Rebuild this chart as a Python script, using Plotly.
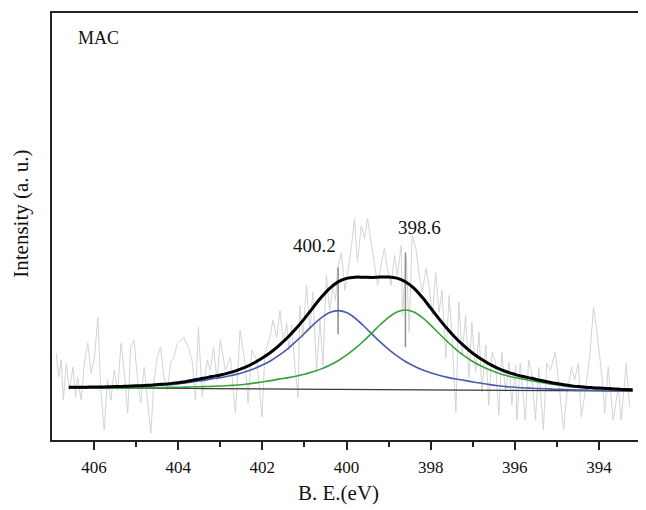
import plotly.graph_objects as go

# ---- raw (noisy) N 1s spectrum, binding energy (eV) and intensity (a.u.) ----
be_raw = [406.90, 406.84, 406.78, 406.73, 406.66, 406.59, 406.50, 406.44, 406.39, 406.31,
          406.23, 406.15, 406.07, 405.99, 405.91, 405.84, 405.76, 405.68, 405.60, 405.52,
          405.44, 405.36, 405.28, 405.20, 405.13, 405.05, 404.97, 404.89, 404.81, 404.73,
          404.65, 404.58, 404.50, 404.42, 404.34, 404.26, 404.18, 404.10, 404.02, 403.87,
          403.76, 403.67, 403.59, 403.52, 403.43, 403.31, 403.24, 403.16, 403.08, 403.00,
          402.88, 402.76, 402.64, 402.53, 402.41, 402.34, 402.25, 402.13, 402.01, 401.94,
          401.82, 401.75, 401.66, 401.58, 401.50, 401.42, 401.37, 401.30, 401.23, 401.15,
          401.11, 401.04, 400.95, 400.87, 400.80, 400.71, 400.63, 400.56, 400.48, 400.40,
          400.33, 400.26, 400.21, 400.12, 400.04, 399.97, 399.88, 399.81, 399.74, 399.65,
          399.57, 399.50, 399.41, 399.33, 399.26, 399.18, 399.10, 399.03, 398.94, 398.86,
          398.79, 398.70, 398.67, 398.58, 398.51, 398.44, 398.35, 398.27, 398.20, 398.11,
          398.03, 397.96, 397.88, 397.80, 397.73, 397.64, 397.56, 397.49, 397.40, 397.33,
          397.25, 397.17, 397.09, 397.02, 396.93, 396.85, 396.78, 396.69, 396.62, 396.54,
          396.46, 396.38, 396.31, 396.22, 396.14, 396.07, 395.98, 395.95, 395.87, 395.75,
          395.67, 395.60, 395.51, 395.43, 395.32, 395.24, 395.15, 395.04, 394.96, 394.84,
          394.77, 394.65, 394.58, 394.49, 394.42, 394.32, 394.21, 394.13, 394.06, 393.99,
          393.92, 393.86, 393.78, 393.66, 393.54, 393.47, 393.35, 393.27]
int_raw = [87, 63, 80, 40, 77, 50, 73, 43, 63, 40,
           77, 97, 67, 83, 123, 50, 10, 60, 40, 70,
           50, 97, 67, 27, 93, 100, 63, 37, 73, 40,
           7, 57, 83, 93, 63, 50, 77, 83, 97, 103,
           93, 80, 40, 113, 43, 80, 70, 93, 60, 100,
           70, 83, 27, 110, 77, 37, 90, 80, 23, 87,
           103, 120, 103, 130, 97, 117, 90, 115, 75, 42,
           135, 102, 155, 110, 148, 68, 120, 75, 165, 130,
           152, 140, 172, 188, 150, 168, 195, 222, 178, 215,
           202, 222, 195, 172, 155, 175, 192, 172, 155, 185,
           165, 195, 125, 185, 108, 205, 192, 165, 148, 172,
           152, 125, 168, 128, 150, 82, 145, 102, 28, 138,
           85, 125, 62, 118, 68, 108, 48, 95, 35, 88,
           78, 25, 88, 48, 78, 35, 75, 20, 77, 20,
           80, 68, 20, 73, 10, 77, 70, 88, 60, 10,
           43, 73, 60, 77, 23, 50, 87, 133, 113, 87,
           60, 27, 73, 20, 53, 20, 77, 33]

# ---- fitted curves ----
be_fit = [406.6, 406.4, 406.2, 406.0, 405.8, 405.6, 405.4, 405.2, 405.0, 404.8,
          404.6, 404.4, 404.2, 404.0, 403.8, 403.6, 403.4, 403.2, 403.0, 402.8,
          402.6, 402.4, 402.2, 402.0, 401.8, 401.6, 401.4, 401.2, 401.0, 400.8,
          400.6, 400.4, 400.2, 400.0, 399.8, 399.6, 399.4, 399.2, 399.0, 398.8,
          398.6, 398.4, 398.2, 398.0, 397.8, 397.6, 397.4, 397.2, 397.0, 396.8,
          396.6, 396.4, 396.2, 396.0, 395.8, 395.6, 395.4, 395.2, 395.0, 394.8,
          394.6, 394.4, 394.2, 394.0, 393.8, 393.6, 393.4, 393.2]
background = [52.3, 52.3, 52.2, 52.2, 52.1, 52.1, 52.0, 52.0, 51.9, 51.9,
              51.8, 51.8, 51.7, 51.7, 51.6, 51.6, 51.5, 51.5, 51.4, 51.4,
              51.3, 51.3, 51.2, 51.2, 51.1, 51.1, 51.0, 51.0, 50.9, 50.9,
              50.8, 50.8, 50.7, 50.7, 50.6, 50.6, 50.5, 50.5, 50.4, 50.4,
              50.3, 50.3, 50.2, 50.2, 50.1, 50.1, 50.0, 50.0, 49.9, 49.9,
              49.8, 49.8, 49.7, 49.7, 49.6, 49.6, 49.5, 49.5, 49.4, 49.4,
              49.3, 49.3, 49.2, 49.2, 49.1, 49.1, 49.0, 49.0]
peak_4002 = [0.4, 0.5, 0.6, 0.8, 0.9, 1.2, 1.4, 1.7, 2.0, 2.3,
             2.7, 3.2, 3.8, 4.6, 5.7, 7.0, 8.3, 9.8, 11.1, 12.7,
             14.7, 17.1, 20.2, 23.9, 28.4, 33.9, 40.4, 47.8, 55.9, 64.2,
             71.7, 77.0, 79.0, 77.0, 71.7, 64.2, 55.9, 47.8, 40.4, 33.9,
             28.4, 23.9, 20.2, 17.1, 14.7, 12.7, 11.1, 9.8, 8.3, 7.0,
             5.7, 4.6, 3.8, 3.2, 2.7, 2.3, 2.0, 1.7, 1.4, 1.2,
             0.9, 0.8, 0.6, 0.5, 0.4, 0.3, 0.2, 0.2]
peak_3986 = [0.1, 0.1, 0.1, 0.1, 0.1, 0.2, 0.2, 0.3, 0.4, 0.5,
             0.6, 0.8, 1.0, 1.2, 1.4, 1.7, 2.0, 2.3, 2.7, 3.2,
             3.8, 4.6, 5.8, 7.0, 8.4, 9.9, 11.3, 12.9, 14.9, 17.4,
             20.5, 24.2, 28.8, 34.3, 40.9, 48.4, 56.6, 65.0, 72.6, 78.0,
             80.0, 78.0, 72.6, 65.0, 56.6, 48.4, 40.9, 34.3, 28.8, 24.2,
             20.5, 17.4, 14.9, 12.9, 11.3, 9.9, 8.4, 7.0, 5.8, 4.6,
             3.8, 3.2, 2.7, 2.3, 2.0, 1.7, 1.4, 1.2]

# peak position markers (eV) and their extent (intensity)
marker_be = [400.2, 398.6]
marker_lo = [106, 93]
marker_hi = [173, 188]
peak_labels = ["400.2", "398.6"]
label_be = [400.77, 398.27]
label_int = [195, 213]

x_ticks = [406, 404, 402, 400, 398, 396, 394]
x_minor = [405, 403, 401, 399, 397, 395]

blue_abs = [b + p for b, p in zip(background, peak_4002)]
green_abs = [b + p for b, p in zip(background, peak_3986)]
envelope = [b + p1 + p2 for b, p1, p2 in zip(background, peak_4002, peak_3986)]

FONT = "Liberation Serif, Times New Roman, serif"

fig = go.Figure()
fig.add_trace(go.Scatter(x=be_raw, y=int_raw, mode="lines",
                         line=dict(color="#d4d4d4", width=1), showlegend=False))
for xb, lo, hi in zip(marker_be, marker_lo, marker_hi):
    fig.add_trace(go.Scatter(x=[xb, xb], y=[lo, hi], mode="lines",
                             line=dict(color="#8c8c8c", width=1.5), showlegend=False))
fig.add_trace(go.Scatter(x=be_fit, y=background, mode="lines",
                         line=dict(color="#3a3a3a", width=1.2), showlegend=False))
fig.add_trace(go.Scatter(x=be_fit, y=blue_abs, mode="lines", line_shape="spline",
                         line=dict(color="#4a5aae", width=1.6), showlegend=False))
fig.add_trace(go.Scatter(x=be_fit, y=green_abs, mode="lines", line_shape="spline",
                         line=dict(color="#35a23a", width=1.6), showlegend=False))
fig.add_trace(go.Scatter(x=be_fit, y=envelope, mode="lines", line_shape="spline",
                         line=dict(color="#000000", width=3), showlegend=False))

for txt, xb, yi in zip(peak_labels, label_be, label_int):
    fig.add_annotation(x=xb, y=yi, text=txt, showarrow=False,
                       font=dict(family=FONT, size=19, color="#111"),
                       xanchor="center", yanchor="middle")

fig.add_annotation(xref="paper", yref="paper", x=0.0406, y=0.9416, text="MAC",
                   showarrow=False, xanchor="left", yanchor="middle",
                   font=dict(family=FONT, size=18, color="#111"))
fig.add_annotation(xref="paper", yref="paper", x=0.487, y=-0.124, text="B. E.(eV)",
                   showarrow=False, xanchor="center", yanchor="middle",
                   font=dict(family=FONT, size=21, color="#111"))
fig.add_annotation(xref="paper", yref="paper", x=-0.0525, y=0.53, text="Intensity (a. u.)",
                   showarrow=False, xanchor="center", yanchor="middle", textangle=-90,
                   font=dict(family=FONT, size=21, color="#111"))

# page body has an 8 px margin, so the figure is sized/offset to compensate
fig.update_layout(
    width=638, height=502,
    margin=dict(l=44, r=3, t=4, b=70),
    paper_bgcolor="white", plot_bgcolor="white",
    xaxis=dict(range=[407, 393], tickvals=x_ticks, ticktext=[str(t) for t in x_ticks],
               ticks="outside", ticklen=8, tickwidth=1.5, tickcolor="#222",
               ticklabelstandoff=3,
               showline=True, linecolor="#222", linewidth=1.5, mirror=True,
               showgrid=False, zeroline=False,
               tickfont=dict(family=FONT, size=17, color="#111"),
               minor=dict(tickvals=x_minor, ticks="outside", ticklen=5,
                          tickwidth=1.5, tickcolor="#222", showgrid=False)),
    yaxis=dict(range=[0, 428], showticklabels=False, ticks="",
               showline=True, linecolor="#222", linewidth=1.5, mirror=True,
               showgrid=False, zeroline=False),
)

fig.write_html("out.html")
